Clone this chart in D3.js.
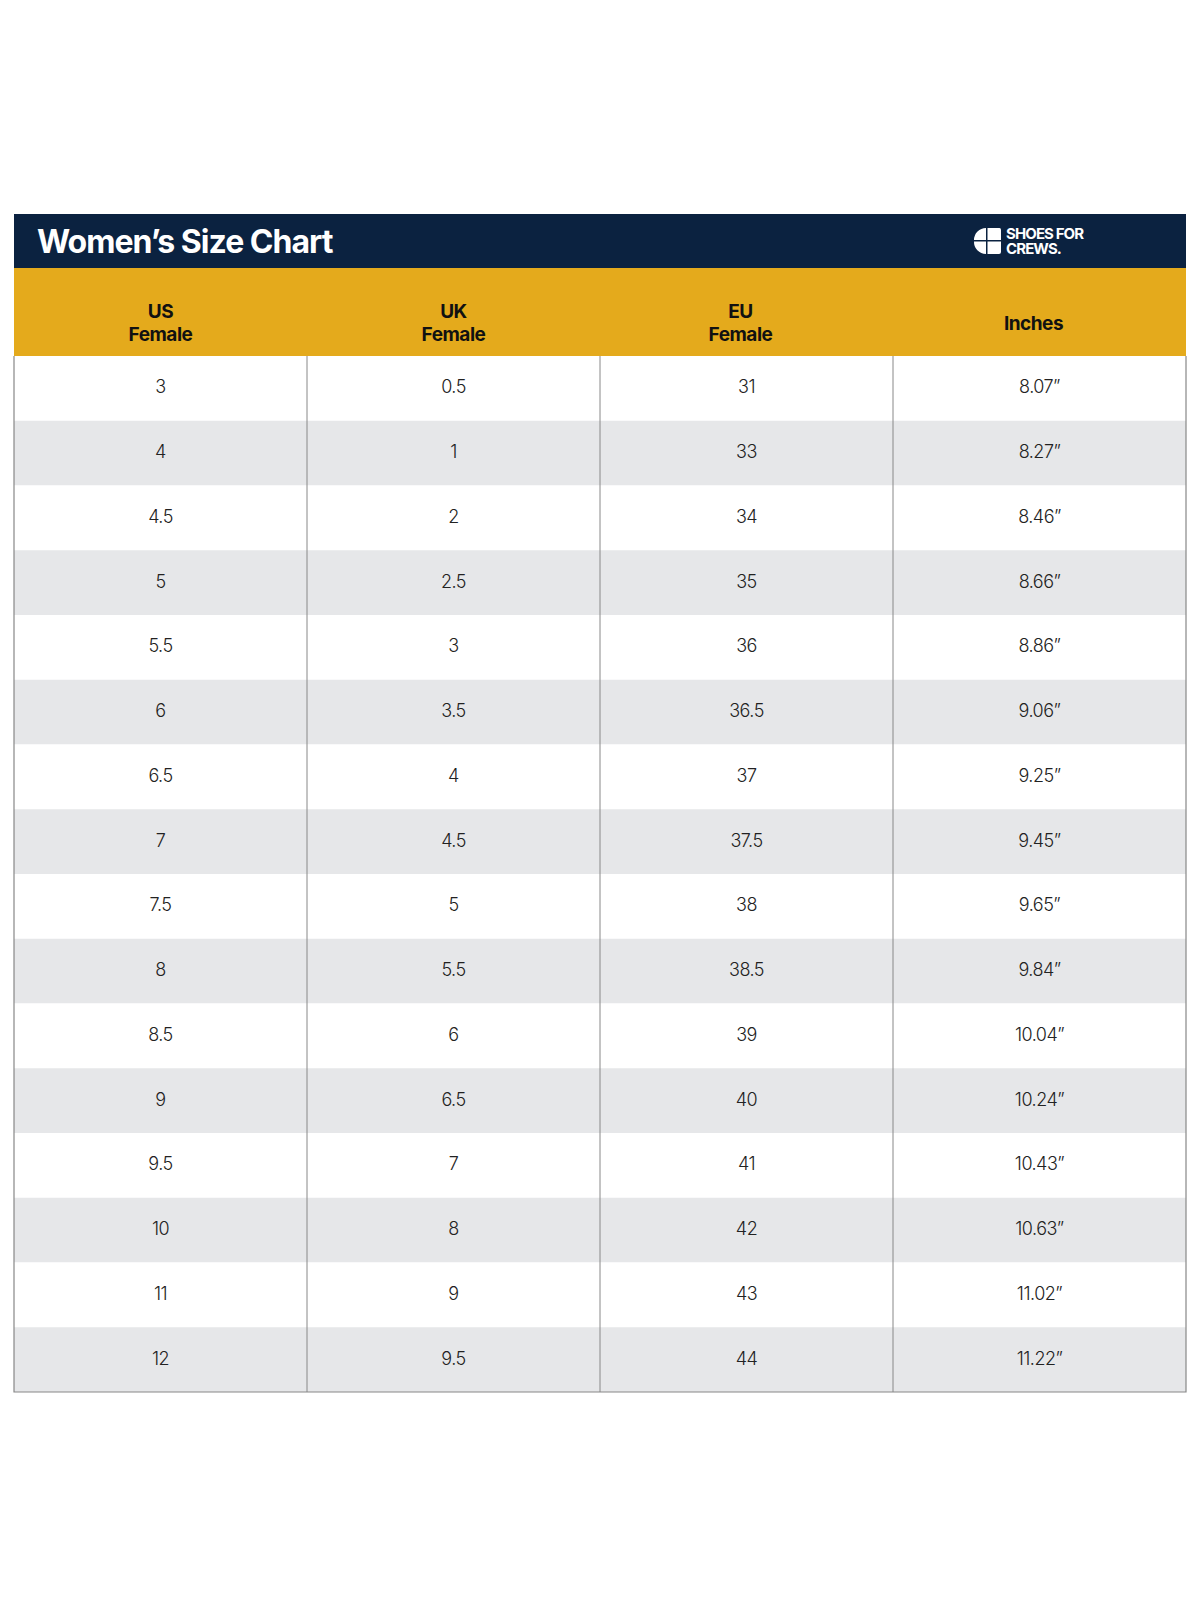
<!DOCTYPE html>
<html><head><meta charset="utf-8">
<script src="https://cdn.jsdelivr.net/npm/d3@7"></script>
<style>body{margin:0;background:#fff}</style>
</head><body>
<script>
const headers = [["US", "Female"], ["UK", "Female"], ["EU", "Female"], ["Inches"]];
const us = ["3","4","4.5","5","5.5","6","6.5","7","7.5","8","8.5","9","9.5","10","11","12"];
const uk = ["0.5","1","2","2.5","3","3.5","4","4.5","5","5.5","6","6.5","7","8","9","9.5"];
const eu = ["31","33","34","35","36","36.5","37","37.5","38","38.5","39","40","41","42","43","44"];
const inches = ["8.07”","8.27”","8.46”","8.66”","8.86”","9.06”","9.25”","9.45”","9.65”","9.84”","10.04”","10.24”","10.43”","10.63”","11.02”","11.22”"];

const cols = [us, uk, eu, inches];
const W = 1200, H = 1600, L = 14, R = 1186, tableTop = 214, navyB = 268, goldB = 356, bottom = 1392;
const svg = d3.select("body").append("svg").attr("width", W).attr("height", H)
  .style("font-family", "Inter, 'Liberation Sans', sans-serif");

const x = d3.scaleBand().domain(d3.range(4)).range([L, R]);
const y = d3.scaleBand().domain(d3.range(us.length)).range([goldB, bottom]);

svg.append("rect").attr("x", L).attr("y", tableTop).attr("width", R - L).attr("height", navyB - tableTop).attr("fill", "#0b2240");
svg.append("rect").attr("x", L).attr("y", navyB).attr("width", R - L).attr("height", goldB - navyB).attr("fill", "#e4aa1c");
svg.append("text").attr("x", 37).attr("y", 253).attr("fill", "#fff").attr("font-size", 32).attr("font-weight", 700)
  .attr("letter-spacing", -1).text("Women’s Size Chart");

// logo
const lg = svg.append("g").attr("transform", "translate(974,228)");
lg.append("path").attr("d", "M0,12 A12,12 0 0 1 12,0 L12,12 Z M13.5,0 L25.5,0 Q27,0 27,2 L27,12 L13.5,12 Z M0,13.5 L12,13.5 L12,26 A12,12 0 0 1 0,13.5 Z M13.5,13.5 L27,13.5 L27,24 Q27,26 25,26 L13.5,26 Z").attr("fill", "#fff");
lg.append("text").attr("x", 32).attr("y", 11).attr("fill", "#fff").attr("font-size", 15).attr("font-weight", 700).attr("letter-spacing", -0.9).text("SHOES FOR");
lg.append("text").attr("x", 32).attr("y", 26).attr("fill", "#fff").attr("font-size", 15).attr("font-weight", 700).attr("letter-spacing", -0.9).text("CREWS.");

// header labels
headers.forEach((h, i) => {
  const cx = x(i) + x.bandwidth() / 2 - (i === 2 ? 6 : 0) - (i === 3 ? 6 : 0);
  const t = svg.append("text").attr("text-anchor", "middle").attr("font-size", 19).attr("font-weight", 700)
    .attr("fill", "#111").attr("letter-spacing", -0.5);
  if (h.length === 2) {
    t.append("tspan").attr("x", cx).attr("y", 318).text(h[0]);
    t.append("tspan").attr("x", cx).attr("y", 341).text(h[1]);
  } else {
    t.append("tspan").attr("x", cx).attr("y", 330).text(h[0]);
  }
});

// rows
svg.selectAll("rect.row").data(us).join("rect").attr("class", "row")
  .attr("x", L).attr("y", (d, i) => y(i)).attr("width", R - L).attr("height", y.bandwidth())
  .attr("fill", (d, i) => i % 2 ? "#e6e7e9" : "#fff");

cols.forEach((c, ci) => {
  svg.selectAll(null).data(c).join("text")
    .attr("x", x(ci) + x.bandwidth() / 2).attr("y", (d, i) => y(i) + y.bandwidth() / 2 + 5)
    .attr("text-anchor", "middle").attr("font-size", 18).attr("font-weight", 300).attr("fill", "#222").attr("letter-spacing", -0.5)
    .text(d => d);
});

// grid lines
[1, 2, 3].forEach(i => svg.append("line").attr("x1", x(i)).attr("x2", x(i)).attr("y1", goldB).attr("y2", bottom)
  .attr("stroke", "#888").attr("stroke-width", 1));
svg.append("path").attr("d", `M${L},${goldB}V${bottom}H${R}V${goldB}`).attr("fill", "none").attr("stroke", "#888").attr("stroke-width", 1.2);
</script>
</body></html>
